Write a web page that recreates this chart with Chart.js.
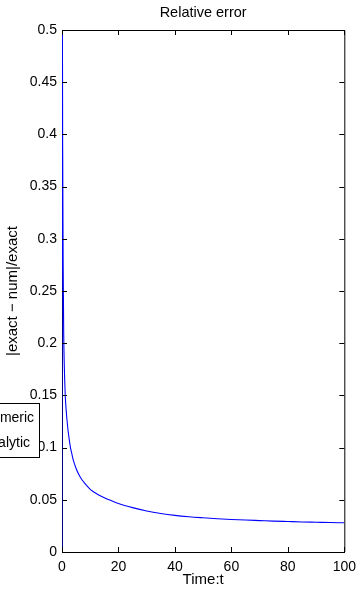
<!DOCTYPE html>
<html><head><meta charset="utf-8">
<script src="https://cdn.jsdelivr.net/npm/chart.js@4"></script>
<style>html,body{margin:0;padding:0;background:#fff;overflow:hidden}#wrap{width:363px;height:589px}</style>
</head><body><div id="wrap"><canvas id="c" width="363" height="589"></canvas></div>
<script>
const titleText = 'Relative error';
const xTitle = 'Time:t';
const yTitle = '|exact \u2212 num|/exact';
const legendLabels = ['Numeric', 'Analytic'];
const timeValues = [0, 0.05, 0.15, 0.25, 0.4, 0.6, 0.8, 1.15, 1.5, 2, 2.5, 3, 3.5, 4, 5, 6, 7, 8, 9, 10, 11, 12, 13, 15, 17, 20, 25, 30, 35, 40, 45, 50, 55, 60, 65, 70, 75, 80, 85, 90, 95, 100];
const relErrValues = [0, 1.5, 0.5, 0.38, 0.28, 0.21, 0.18, 0.15, 0.135, 0.12, 0.109, 0.1, 0.094, 0.088, 0.08, 0.074, 0.0695, 0.066, 0.0628, 0.06, 0.058, 0.0562, 0.0547, 0.052, 0.0497, 0.0465, 0.0425, 0.0393, 0.0369, 0.0351, 0.0338, 0.0328, 0.0319, 0.0312, 0.0306, 0.0301, 0.0296, 0.0292, 0.0288, 0.0285, 0.0282, 0.028];
const xTicks = [0, 20, 40, 60, 80, 100];
const xTickLabels = ['0', '20', '40', '60', '80', '100'];
const yTicks = [0, 0.05, 0.1, 0.15, 0.2, 0.25, 0.3, 0.35, 0.4, 0.45, 0.5];
const yTickLabels = ['0', '0.05', '0.1', '0.15', '0.2', '0.25', '0.3', '0.35', '0.4', '0.45', '0.5'];

const FONT = '"Liberation Sans", Arial, Helvetica, sans-serif';
Chart.defaults.font.family = FONT;
Chart.defaults.color = '#000';

const decor = {
  id: 'decor',
  afterDraw(chart) {
    const {ctx, chartArea: a, scales: {x, y}} = chart;
    ctx.save();
    ctx.strokeStyle = '#000';
    ctx.lineWidth = 1;
    ctx.beginPath();
    ctx.moveTo(a.left, a.top + 0.5); ctx.lineTo(a.right + 0.5, a.top + 0.5);
    ctx.lineTo(a.right + 0.5, a.bottom);
    ctx.stroke();
    const tl = 5;
    ctx.beginPath();
    xTicks.forEach(v => {
      const px = Math.round(x.getPixelForValue(v)) + 0.5;
      ctx.moveTo(px, a.bottom); ctx.lineTo(px, a.bottom - tl);
      ctx.moveTo(px, a.top); ctx.lineTo(px, a.top + tl);
    });
    yTicks.forEach(v => {
      const py = Math.round(y.getPixelForValue(v)) + 0.5;
      ctx.moveTo(a.left, py); ctx.lineTo(a.left + tl, py);
      ctx.moveTo(a.right, py); ctx.lineTo(a.right - tl, py);
    });
    ctx.stroke();
    ctx.fillStyle = '#000';
    ctx.font = '14.5px ' + FONT;
    ctx.textAlign = 'center';
    ctx.textBaseline = 'middle';
    ctx.fillText(titleText, (a.left + a.right) / 2, 13);
    ctx.fillStyle = '#fff';
    ctx.fillRect(-60, 403, 99, 54);
    ctx.strokeRect(-60, 403.5, 99.5, 54);
    ctx.fillStyle = '#000';
    ctx.font = '14px ' + FONT;
    ctx.textAlign = 'left';
    ctx.fillText(legendLabels[0], -18, 418);
    ctx.fillText(legendLabels[1], -19, 443);
    ctx.restore();
  }
};

new Chart(document.getElementById('c'), {
  type: 'line',
  data: {
    datasets: [{
      label: 'Relative error',
      data: timeValues.map((t, i) => ({x: t, y: relErrValues[i]})),
      borderColor: '#0000ff',
      borderWidth: 1.1,
      pointRadius: 0,
      fill: false,
      cubicInterpolationMode: 'monotone'
    }]
  },
  options: {
    responsive: false,
    animation: false,
    devicePixelRatio: 1,
    layout: {padding: {top: 30, right: 15, left: 0, bottom: 0}},
    plugins: {legend: {display: false}, title: {display: false}, tooltip: {enabled: false}},
    scales: {
      x: {
        type: 'linear', min: 0, max: 100,
        afterBuildTicks: s => { s.ticks = xTicks.map(v => ({value: v})); },
        afterFit: s => { s.height = 37; },
        grid: {display: false, drawTicks: false},
        border: {display: true, color: '#000', width: 1},
        ticks: {padding: 7, font: {size: 14}, color: '#000', maxRotation: 0, autoSkip: false,
          callback: (v, i) => xTickLabels[i]},
        title: {display: true, text: xTitle, font: {size: 15}, color: '#000', padding: {top: 0, bottom: 0}}
      },
      y: {
        type: 'linear', min: 0, max: 0.5,
        afterBuildTicks: s => { s.ticks = yTicks.map(v => ({value: v})); },
        afterFit: s => { s.width = 62; },
        grid: {display: false, drawTicks: false},
        border: {display: true, color: '#000', width: 1},
        ticks: {padding: 5, font: {size: 14}, color: '#000', autoSkip: false,
          callback: (v, i) => yTickLabels[i]},
        title: {display: true, text: yTitle, font: {size: 15}, color: '#000', padding: {top: 4, bottom: 0}}
      }
    }
  },
  plugins: [decor]
});
</script></body></html>
